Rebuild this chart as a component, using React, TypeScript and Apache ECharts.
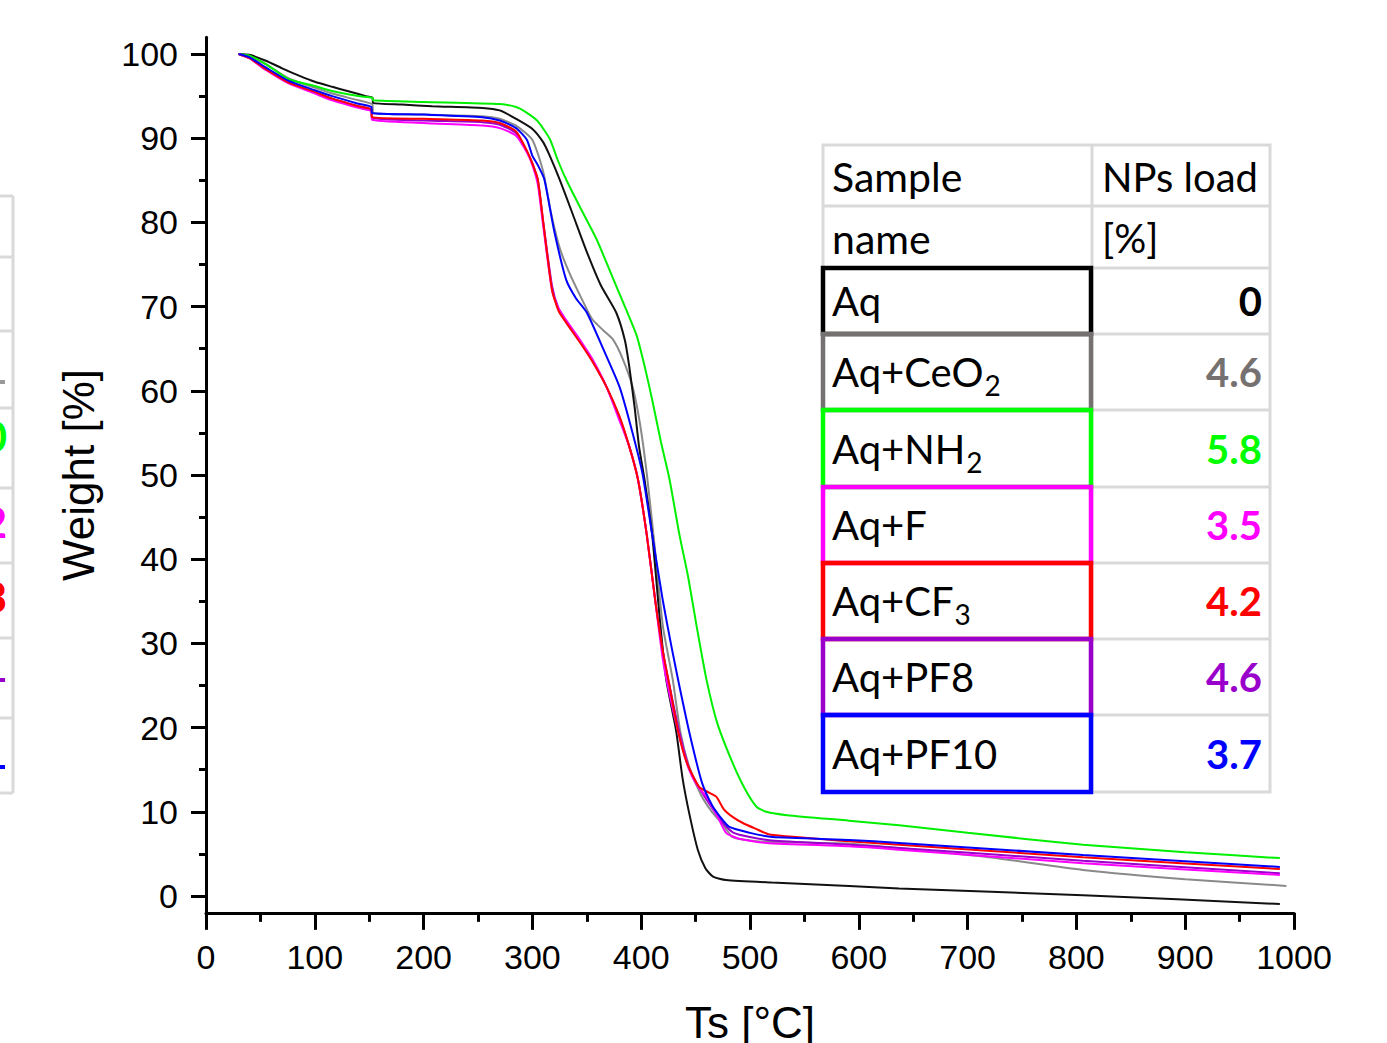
import { useEffect, useRef } from "react";
import * as echarts from "echarts";

// ---- TGA curves: [temperature °C, weight %] ----
const aq: [number, number][] = [
  [30, 100.0], [40, 99.9], [55, 99.2], [70, 98.3], [86, 97.4], [100, 96.7], [116, 96.1], [130, 95.6],
  [147, 95.0], [153, 94.8], [153.5, 94.2], [180, 94.0], [208, 93.8], [254, 93.6], [270, 93.3],
  [285, 92.3], [300, 91.1], [310, 89.5], [316, 87.9], [325, 85.1], [337, 81.0], [350, 76.5],
  [363, 72.5], [377, 69.3], [385, 66.0], [389, 62.9], [394, 58.0], [398, 53.4], [403, 49.5],
  [410, 43.0], [417, 33.0], [423, 25.7], [432, 19.7], [438, 14.0], [444, 9.9], [452, 5.5],
  [459, 3.3], [466, 2.3], [478, 1.9], [520, 1.6], [591, 1.2], [637, 0.9], [806, 0.1], [987, -0.95],
];
const ceo2: [number, number][] = [
  [30, 100.0], [40, 99.7], [55, 98.8], [76, 97.1], [100, 96.0], [116, 95.3], [140, 94.5],
  [153, 94.0], [153.5, 93.0], [200, 92.8], [254, 92.6], [270, 92.3], [285, 91.5], [300, 89.8],
  [310, 86.0], [317, 81.2], [325, 77.0], [334, 74.0], [345, 71.0], [355, 68.5], [365, 67.2],
  [374, 66.1], [383, 63.8], [392, 60.5], [399, 56.0], [405, 50.3], [412, 42.0], [420, 32.0],
  [429, 25.7], [436, 19.5], [444, 15.4], [455, 12.0], [465, 10.0], [475, 8.5], [484, 7.0],
  [500, 6.6], [520, 6.4], [591, 6.2], [714, 4.7], [806, 3.1], [900, 2.0], [993, 1.2],
];
const nh2: [number, number][] = [
  [30, 100.0], [40, 99.8], [55, 98.8], [76, 97.0], [100, 96.2], [116, 95.6], [140, 95.0],
  [153, 94.8], [153.5, 94.5], [200, 94.3], [270, 94.05], [285, 93.7], [294, 93.1], [305, 92.0],
  [316, 89.9], [323, 87.5], [331, 85.1], [345, 81.5], [359, 78.0], [372, 74.0], [386, 69.7],
  [396, 66.5], [403, 63.0], [410, 59.0], [418, 54.0], [426, 49.5], [435, 43.0], [443, 38.0],
  [451, 32.0], [460, 25.7], [470, 20.5], [484, 15.8], [495, 12.8], [506, 10.6], [515, 10.0],
  [534, 9.6], [591, 8.95], [637, 8.4], [700, 7.5], [806, 6.1], [900, 5.2], [987, 4.5],
];
const fSample: [number, number][] = [
  [30, 100.0], [40, 99.5], [55, 98.1], [76, 96.5], [100, 95.3], [116, 94.5], [140, 93.6],
  [152, 93.2], [152.5, 92.2], [200, 91.8], [254, 91.5], [270, 91.2], [285, 90.3], [295, 88.3],
  [300, 86.8], [305, 84.5], [310, 79.5], [318, 72.0], [324, 69.8], [331, 68.4], [345, 65.8],
  [355, 63.8], [368, 60.5], [380, 56.5], [389, 53.4], [397, 49.5], [405, 43.0], [413, 35.0],
  [420, 28.0], [426, 24.0], [435, 19.0], [444, 15.0], [452, 13.0], [460, 11.8], [470, 9.5],
  [478, 7.5], [490, 6.8], [515, 6.3], [591, 5.9], [637, 5.5], [806, 3.9], [987, 2.5],
];
const cf3: [number, number][] = [
  [30, 100.0], [40, 99.5], [55, 98.2], [76, 96.6], [100, 95.5], [116, 94.7], [140, 93.8],
  [152, 93.4], [152.5, 92.5], [200, 92.3], [254, 92.1], [270, 91.8], [285, 90.8], [295, 88.5],
  [300, 87.0], [305, 85.1], [310, 80.0], [318, 72.0], [324, 69.5], [331, 68.1], [345, 65.5],
  [355, 63.5], [368, 60.5], [380, 57.0], [389, 53.4], [397, 49.5], [405, 43.0], [413, 35.0],
  [420, 29.0], [426, 25.0], [434, 19.5], [442, 15.8], [453, 13.0], [462, 12.3], [469, 11.8],
  [476, 10.3], [484, 9.4], [493, 8.7], [505, 8.0], [518, 7.3], [591, 6.5], [637, 6.1], [806, 4.6], [987, 3.2],
];
const pf8: [number, number][] = [
  [30, 100.0], [40, 99.5], [55, 98.2], [76, 96.6], [100, 95.4], [116, 94.7], [140, 93.8],
  [152, 93.4], [152.5, 92.4], [200, 92.1], [254, 91.9], [270, 91.6], [285, 90.6], [295, 88.4],
  [300, 87.0], [305, 85.0], [310, 80.0], [318, 72.5], [324, 69.8], [331, 68.3], [345, 65.7],
  [355, 63.6], [368, 60.5], [380, 56.8], [389, 53.4], [397, 49.5], [405, 43.0], [413, 35.0],
  [420, 29.0], [426, 25.0], [435, 19.5], [444, 15.2], [455, 12.5], [465, 10.5], [475, 8.7],
  [485, 7.5], [500, 7.0], [520, 6.6], [591, 6.1], [637, 5.7], [806, 4.2], [987, 2.7],
];
const pf10: [number, number][] = [
  [30, 100.0], [40, 99.6], [55, 98.4], [76, 96.8], [100, 95.7], [116, 95.0], [140, 94.1],
  [152, 93.7], [152.5, 93.0], [200, 92.8], [254, 92.5], [270, 92.1], [285, 91.2], [295, 89.8],
  [300, 87.9], [305, 86.8], [311, 85.1], [320, 79.0], [331, 73.2], [340, 71.0], [350, 69.3],
  [365, 65.0], [380, 60.5], [390, 56.0], [401, 50.3], [410, 43.0], [420, 35.0], [428, 29.5],
  [435, 25.0], [445, 19.0], [456, 13.4], [465, 10.8], [472, 9.5], [481, 8.2], [500, 7.5],
  [521, 7.0], [591, 6.66], [637, 6.3], [806, 4.87], [987, 3.45],
];

// ---- Series / table content ----
const seriesNames = ["Aq+CeO2", "Aq", "Aq+NH2", "Aq+PF8", "Aq+F", "Aq+CF3", "Aq+PF10"];
const seriesData = [ceo2, aq, nh2, pf8, fSample, cf3, pf10];
const seriesColors = ["#8a8a8a", "#111111", "#00f000", "#9900cc", "#ff00ff", "#ff0000", "#0000ff"];

const tableHeader1 = ["Sample", "NPs load"];
const tableHeader2 = ["name", "[%]"];
const sampleNames = ["Aq", "Aq+CeO", "Aq+NH", "Aq+F", "Aq+CF", "Aq+PF8", "Aq+PF10"];
const sampleSubs = ["", "2", "2", "", "3", "", ""];
const sampleLoads = ["0", "4.6", "5.8", "3.5", "4.2", "4.6", "3.7"];
const sampleColors = ["#000000", "#767171", "#00ff00", "#ff00ff", "#ff0000", "#9900cc", "#0000ff"];

const xTickValues = [0, 100, 200, 300, 400, 500, 600, 700, 800, 900, 1000];
const yTickValues = [0, 10, 20, 30, 40, 50, 60, 70, 80, 90, 100];

const AXIS_FONT = "'Liberation Sans', Arial, sans-serif";
const TABLE_FONT = "Lato, 'Noto Sans', sans-serif";

function measure(text: string, font: string): number {
  const c = document.createElement("canvas").getContext("2d");
  if (!c) return text.length * 20;
  c.font = font;
  return c.measureText(text).width;
}

export default function App() {
  const ref = useRef<HTMLDivElement>(null);

  useEffect(() => {
    document.body.style.margin = "0";
    if (!ref.current) return;
    const chart = echarts.init(ref.current, undefined, { renderer: "svg" });

    // table geometry
    const tLeft = 823, tMid = 1092, tRight = 1270;
    const rowEdges = [145, 206, 268, 334, 410, 487, 563, 639, 715, 792];
    const grid = "#d9d9d9";
    const g: any[] = [];
    // left partial table (cut off by the picture edge)
    const leftRows = [196, 257, 331, 408, 488, 563, 638, 718, 793];
    g.push({ type: "line", shape: { x1: 13, y1: 196, x2: 13, y2: 793 }, style: { stroke: grid, lineWidth: 3 } });
    leftRows.forEach((y) => g.push({ type: "line", shape: { x1: 0, y1: y, x2: 13, y2: y }, style: { stroke: grid, lineWidth: 3 } }));
    g.push({ type: "rect", shape: { x: 0, y: 380, width: 5, height: 4 }, style: { fill: "#9a9a9a" } });
    g.push({ type: "text", x: 7, y: 436, style: { text: "0", fill: "#00ff00", font: `bold 42px ${TABLE_FONT}`, align: "right", verticalAlign: "middle" } });
    g.push({ type: "text", x: 7, y: 522, style: { text: "2", fill: "#ff00ff", font: `bold 42px ${TABLE_FONT}`, align: "right", verticalAlign: "middle" } });
    g.push({ type: "text", x: 7, y: 597, style: { text: "3", fill: "#ff0000", font: `bold 42px ${TABLE_FONT}`, align: "right", verticalAlign: "middle" } });
    g.push({ type: "rect", shape: { x: 0, y: 678, width: 5, height: 4 }, style: { fill: "#9900cc" } });
    g.push({ type: "rect", shape: { x: 0, y: 765, width: 5, height: 4 }, style: { fill: "#0000ff" } });

    // main table grid
    g.push({ type: "rect", shape: { x: tLeft, y: rowEdges[0], width: tRight - tLeft, height: rowEdges[9] - rowEdges[0] }, style: { fill: "#fff", stroke: grid, lineWidth: 3 } });
    g.push({ type: "line", shape: { x1: tMid, y1: rowEdges[0], x2: tMid, y2: rowEdges[9] }, style: { stroke: grid, lineWidth: 3 } });
    rowEdges.slice(1, 9).forEach((y) => g.push({ type: "line", shape: { x1: tLeft, y1: y, x2: tRight, y2: y }, style: { stroke: grid, lineWidth: 3 } }));

    // headers
    const tx = 832, rx = 1102;
    [tableHeader1, tableHeader2].forEach((row, i) => {
      const cy = (rowEdges[i] + rowEdges[i + 1]) / 2 + 1;
      g.push({ type: "text", x: tx, y: cy, style: { text: row[0], fill: "#000", font: `41px ${TABLE_FONT}`, align: "left", verticalAlign: "middle" } });
      g.push({ type: "text", x: rx, y: cy, style: { text: row[1], fill: "#000", font: `40px ${TABLE_FONT}`, align: "left", verticalAlign: "middle" } });
    });

    // coloured sample boxes
    sampleNames.forEach((_, i) => {
      const top = rowEdges[i + 2], bot = rowEdges[i + 3];
      g.push({ type: "rect", z: 5, shape: { x: tLeft, y: top, width: tMid - tLeft - 1, height: bot - top }, style: { fill: "none", stroke: sampleColors[i], lineWidth: 4.5 } });
    });
    sampleNames.forEach((name, i) => {
      const top = rowEdges[i + 2], bot = rowEdges[i + 3];
      const cy = (top + bot) / 2;
      g.push({ type: "text", z: 6, x: tx, y: cy, style: { text: name, fill: "#000", font: `40px ${TABLE_FONT}`, align: "left", verticalAlign: "middle" } });
      if (sampleSubs[i]) {
        const w = measure(name, `40px ${TABLE_FONT}`);
        g.push({ type: "text", z: 6, x: tx + w + 1, y: cy + 13, style: { text: sampleSubs[i], fill: "#000", font: `28px ${TABLE_FONT}`, align: "left", verticalAlign: "middle" } });
      }
      g.push({ type: "text", z: 6, x: 1262, y: cy, style: { text: sampleLoads[i], fill: sampleColors[i], font: `bold 40px ${TABLE_FONT}`, align: "right", verticalAlign: "middle" } });
    });

    const k = 8.42; // px per weight-%
    const zeroY = 896;
    const topData = zeroY - 102 * k;
    const botData = zeroY + 2 * k;

    chart.setOption({
      animation: false,
      backgroundColor: "#fff",
      grid: [
        { left: 206, right: 93, top: topData, bottom: 1043 - botData, containLabel: false, outerBoundsMode: "none" },
        { left: 206, right: 93, top: zeroY - 100 * k, bottom: 1043 - zeroY, containLabel: false, outerBoundsMode: "none" },
      ],
      xAxis: [
        {
          type: "value", gridIndex: 0, min: xTickValues[0], max: xTickValues[xTickValues.length - 1], interval: 100,
          axisLine: { show: true, onZero: false, lineStyle: { color: "#000", width: 3 } },
          axisTick: { show: true, length: 17, lineStyle: { color: "#000", width: 3 } },
          minorTick: { show: true, splitNumber: 2, length: 9, lineStyle: { color: "#000", width: 3 } },
          splitLine: { show: false },
          axisLabel: { fontSize: 34, color: "#000", margin: 27, fontFamily: AXIS_FONT, formatter: (v: number) => String(v) },
          name: "Ts [°C]", nameLocation: "middle", nameGap: 88,
          nameTextStyle: { fontSize: 44, color: "#000", fontFamily: AXIS_FONT },
        },
        { type: "value", gridIndex: 1, min: 0, max: 1000, show: false },
      ],
      yAxis: [
        {
          type: "value", gridIndex: 0, min: -2, max: 102,
          axisLine: { show: true, onZero: false, lineStyle: { color: "#000", width: 3 } },
          axisTick: { show: false }, axisLabel: { show: false }, splitLine: { show: false },
          name: "Weight [%]", nameLocation: "middle", nameGap: 106,
          nameTextStyle: { fontSize: 44, color: "#000", fontFamily: AXIS_FONT },
        },
        {
          type: "value", gridIndex: 1, min: yTickValues[0], max: yTickValues[yTickValues.length - 1], interval: 10,
          axisLine: { show: false },
          axisTick: { show: true, length: 15, lineStyle: { color: "#000", width: 3 } },
          minorTick: { show: true, splitNumber: 2, length: 7, lineStyle: { color: "#000", width: 3 } },
          splitLine: { show: false },
          axisLabel: { fontSize: 34, color: "#000", margin: 28, fontFamily: AXIS_FONT },
        },
      ],
      series: seriesData.map((d, i) => ({
        name: seriesNames[i],
        type: "line",
        xAxisIndex: 0,
        yAxisIndex: 0,
        data: d,
        showSymbol: false,
        smooth: 0.2,
        lineStyle: { color: seriesColors[i], width: 2 },
        itemStyle: { color: seriesColors[i] },
        z: 2 + i,
      })),
      graphic: g,
    });

    return () => chart.dispose();
  }, []);

  return <div ref={ref} style={{ position: "absolute", left: 0, top: 0, width: 1387, height: 1043 }} />;
}
